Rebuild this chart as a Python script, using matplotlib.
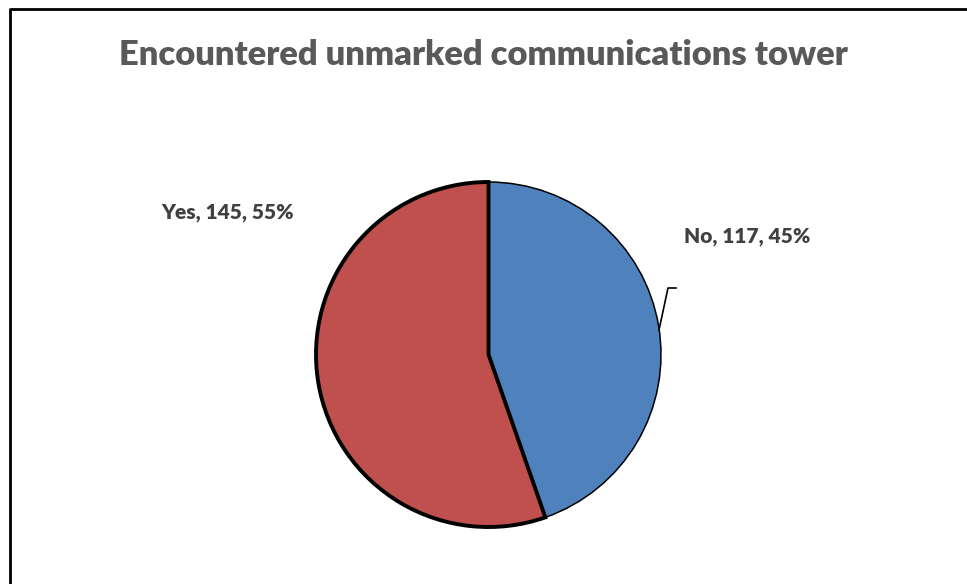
import matplotlib.pyplot as plt

categories = ["No", "Yes"]
counts = [117, 145]
colors = ["#4F81BD", "#C0504D"]
title = "Encountered unmarked communications tower"

W, H = 967, 584
plt.rcParams['font.family'] = ['Lato', 'DejaVu Sans']

fig = plt.figure(figsize=(W / 100, H / 100), dpi=100)
ax = fig.add_axes([0, 0, 1, 1])

cx, cy, r = 488.5, H - 354.5, 172.5
wedges, _ = ax.pie(counts, colors=colors, startangle=90, counterclock=False,
                   center=(cx, cy), radius=r, frame=True)
ax.set_xlim(0, W)
ax.set_ylim(0, H)
ax.set_aspect("equal")
ax.axis("off")
wedges[0].set_edgecolor("black")
wedges[0].set_linewidth(1.1)
wedges[1].set_edgecolor("black")
wedges[1].set_linewidth(2.8)
wedges[1].set_zorder(3)

total = sum(counts)
pct = [round(c * 100 / total) for c in counts]
lab = ["%s, %d, %d%%" % (categories[i], counts[i], pct[i]) for i in range(2)]

ax.text(747, H - 237, lab[0], ha="center", va="center", fontsize=15,
        fontweight="heavy", color="#404040")
ax.text(228, H - 213, lab[1], ha="center", va="center", fontsize=15,
        fontweight="heavy", color="#404040")
# leader line for "No"
ax.plot([676, 668, 659], [H - 288, H - 288, H - 330], color="black", lw=1.2, zorder=4)

ax.text(483, H - 55, title, ha="center", va="center", fontsize=24.8,
        fontweight="heavy", color="#595959")

# chart border (left and top visible)
ax.plot([9.5, 9.5, W + 5], [-5, H - 8.5, H - 8.5], color="black", lw=2, clip_on=False)

fig.savefig("out.png", dpi=100)
